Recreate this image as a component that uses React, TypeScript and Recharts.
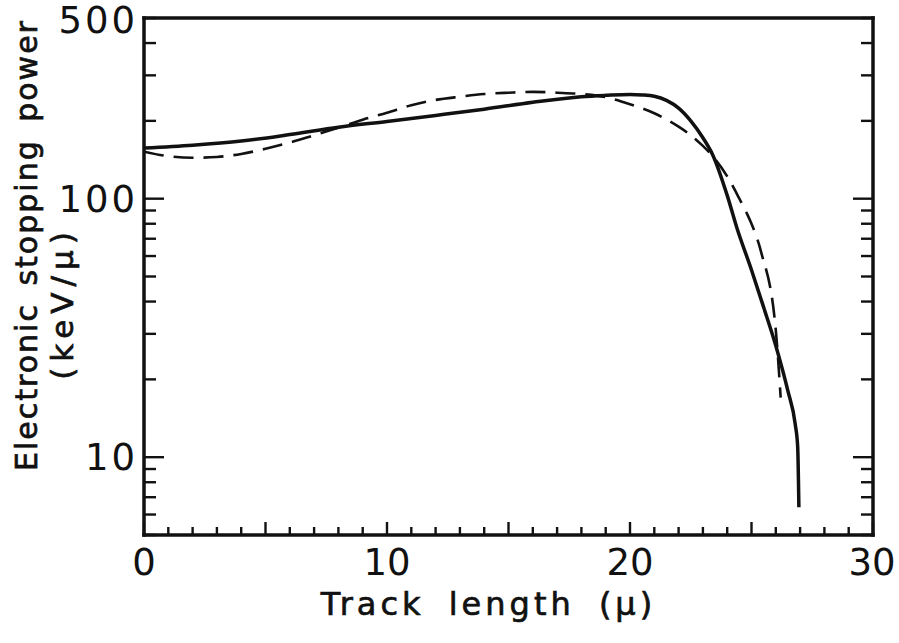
import React from "react";
import { LineChart, Line, XAxis, YAxis, Label } from "recharts";

// solid curve (track length in microns, keV/micron)
const solidX = [0, 2, 4, 6, 8, 10, 12, 14, 16, 18, 19, 20, 20.5, 21, 21.5, 22, 22.5, 23, 23.4, 24, 24.4, 25, 25.5, 26, 26.5, 26.8, 26.9, 26.95];
const solidY = [157, 161, 167, 177, 189, 199, 210, 222, 236, 248, 251, 253, 252, 249, 240, 224, 200, 172, 148, 103, 77, 53, 38, 27, 18, 13.4, 11, 6.4];

// dashed curve
const dashX = [0, 1, 2, 3, 4, 5, 6, 7, 8, 9, 10, 11, 12, 13, 14, 15, 16, 17, 18, 19, 20, 21, 22, 22.5, 23, 23.4, 24, 24.5, 24.8, 25, 25.4, 26, 26.2];
const dashY = [152, 146, 144, 145, 149, 156, 165, 176, 188, 202, 215, 230, 241, 248, 254, 257, 259, 257, 254, 247, 232, 214, 190, 176, 160, 146, 122, 100, 88, 80, 62, 31, 17];

const xTicks = [0, 1, 2, 3, 4, 5, 6, 7, 8, 9, 10, 11, 12, 13, 14, 15, 16, 17, 18, 19, 20, 21, 22, 23, 24, 25, 26, 27, 28, 29, 30];
const xLabels = [0, 10, 20, 30];
const yTicks = [5, 6, 7, 8, 9, 10, 20, 30, 40, 50, 60, 70, 80, 90, 100, 200, 300, 400, 500];
const yLabels = [10, 100, 500];
const yMajor = [10, 100];

const solidData = solidX.map((x, i) => ({ x, v: solidY[i] }));
const dashData = dashX.map((x, i) => ({ x, v: dashY[i] }));

const FONT = "'DejaVu Sans', sans-serif";
const INK = "#111";

function BottomTick({ x, y, payload }: any) {
  const v = payload.value;
  const len = v % 5 === 0 ? 13 : 8;
  return (
    <g>
      <line x1={x} y1={y} x2={x} y2={y - len} stroke={INK} strokeWidth={2.4} />
      {xLabels.includes(v) && (
        <text x={v === 30 ? x - 1 : x} y={y + 40} textAnchor="middle" fontSize={37} fontFamily={FONT} fill={INK}>
          {v}
        </text>
      )}
    </g>
  );
}

function TopTick({ x, y, payload }: any) {
  const len = payload.value % 5 === 0 ? 12 : 8;
  return <line x1={x} y1={y} x2={x} y2={y + len} stroke={INK} strokeWidth={2.4} />;
}

function LeftTick({ x, y, payload }: any) {
  const v = payload.value;
  const len = yMajor.includes(v) ? 20 : 12;
  // the top label sits at the chart's upper edge, nudge it down a little
  const dy = v === 500 ? 15 : 13;
  return (
    <g>
      <line x1={x} y1={y} x2={x + len} y2={y} stroke={INK} strokeWidth={2.4} />
      {yLabels.includes(v) && (
        <text x={x - 6} y={y + dy} textAnchor="end" fontSize={37} letterSpacing={3} fontFamily={FONT} fill={INK}>
          {v}
        </text>
      )}
    </g>
  );
}

function RightTick({ x, y, payload }: any) {
  const len = yMajor.includes(payload.value) ? 20 : 12;
  return <line x1={x} y1={y} x2={x - len} y2={y} stroke={INK} strokeWidth={2.4} />;
}

const frame = { stroke: INK, strokeWidth: 3.5, strokeLinecap: "square" as const };

export default function App() {
  return (
    <div style={{ position: "absolute", left: 0, top: 0, background: "#fff" }}>
      <LineChart width={899} height={643} margin={{ top: 0, right: 0, bottom: 0, left: 0 }}>
        <XAxis
          xAxisId="b" dataKey="x" type="number" domain={[0, 30]} allowDataOverflow
          ticks={xTicks} interval={0} tickSize={0} tickMargin={0}
          tickLine={false} axisLine={frame} tick={<BottomTick />} height={108}
        >
          <Label
            content={({ viewBox }: any) => (
              <text
                x={viewBox.x + viewBox.width / 2 - 20} y={viewBox.y + 80}
                textAnchor="middle" fontSize={32} fontFamily={FONT}
                letterSpacing={4} wordSpacing={10} fill={INK} stroke={INK} strokeWidth={0.7}
              >
                Track length (μ)
              </text>
            )}
          />
        </XAxis>
        <XAxis
          xAxisId="t" orientation="top" type="number" domain={[0, 30]} allowDataOverflow
          ticks={xTicks} interval={0} tickSize={0} tickMargin={0}
          tickLine={false} axisLine={frame} tick={<TopTick />} height={18}
        />
        <YAxis
          yAxisId="l" type="number" scale="log" domain={[5, 500]} allowDataOverflow
          ticks={yTicks} interval={0} tickSize={0} tickMargin={0}
          tickLine={false} axisLine={frame} tick={<LeftTick />} width={144}
        >
          <Label
            content={() => (
              <g fontFamily={FONT} fill={INK} stroke={INK} strokeWidth={0.7}>
                <text x={37} y={245} fontSize={30} textAnchor="middle" letterSpacing={2} wordSpacing={6} transform="rotate(-90 37 245)">
                  Electronic stopping power
                </text>
                <text x={73} y={303} fontSize={31} textAnchor="middle" letterSpacing={6} transform="rotate(-90 73 303)">
                  (keV/μ)
                </text>
              </g>
            )}
          />
        </YAxis>
        <YAxis
          yAxisId="r" orientation="right" type="number" scale="log" domain={[5, 500]} allowDataOverflow
          ticks={yTicks} interval={0} tickSize={0} tickMargin={0}
          tickLine={false} axisLine={frame} tick={<RightTick />} width={26}
        />
        <Line
          xAxisId="b" yAxisId="l" data={solidData} dataKey="v" type="monotone"
          stroke={INK} strokeWidth={3.5} dot={false} isAnimationActive={false}
        />
        <Line
          xAxisId="b" yAxisId="l" data={dashData} dataKey="v" type="monotone"
          stroke={INK} strokeWidth={2.6} strokeDasharray="20 10" dot={false} isAnimationActive={false}
        />
      </LineChart>
    </div>
  );
}
